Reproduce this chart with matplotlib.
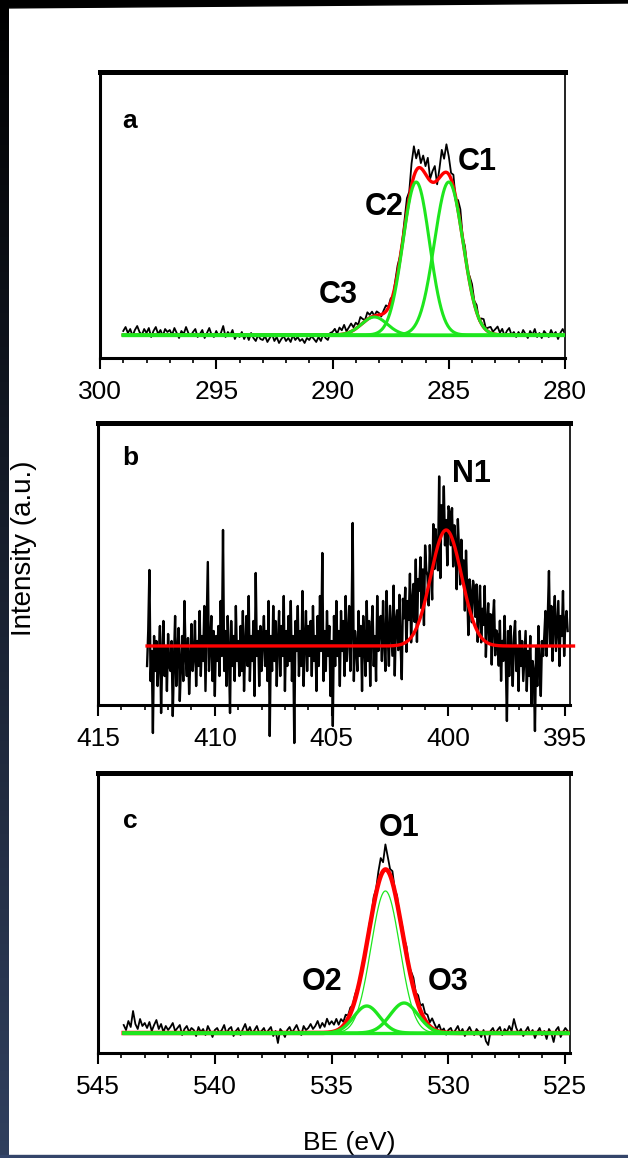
import numpy as np
import matplotlib.pyplot as plt
from matplotlib.patches import Polygon, Rectangle

W, H = 628, 1158
GREEN = '#1ee61e'
RED = '#ff0000'
plt.rcParams['font.family'] = ['Liberation Sans', 'DejaVu Sans']

# ---- panel a : C 1s  (raw = fit + residual, y in arbitrary units above baseline)
a_start, a_step = 299.0, 0.1
a_resid = [4, 8, 2, 6, -1, 5, 9, 3, 0, 6,
           2, 7, -2, 4, 8, 1, 5, -1, 6, 3,
           5, 0, 7, 2, -3, 4, 1, 8, 2, -1,
           3, 6, -2, 1, 5, -3, 2, 7, 0, -2,
           4, -1, 2, 9, -2, 3, 0, 5, -4, 1,
           -2, 3, -4, 1, -5, 2, -3, -6, 0, -4,
           -5, -1, -7, -3, 1, -6, -2, -8, -4, -1,
           -6, -3, -7, 0, -5, -2, -6, -4, -8, -3,
           -5, -1, -4, -7, -2, -6, 1, -3, -5, 2,
           3, 6, 1, 7, 4, 9, 2, 5, 8, 3,
           6, 2, 8, 4, 1, 7, 3, 5, 0, 4,
           2, -2, 3, 6, 1, 4, -1, 5, 8, 3,
           3, 8, 14, 6, 22, 30, 12, 18, 5, 15,
           8, 20, 2, 11, 16, -4, 9, 25, 14, 28,
           18, 6, 12, -3, 10, 15, 2, 8, -2, 6,
           10, 3, 7, -2, 5, 8, 1, 4, 6, 2,
           5, 8, 2, 6, -1, 4, 7, 0, 3, -2,
           3, -1, 5, 1, -3, 4, 0, 6, -2, 2,
           -3, 4, 1, -2, 5, 0, 3, -4, 2, 6, 1]
a_names = ['C1', 'C2', 'C3']
a_centers = [285.0, 286.4, 288.2]
a_heights = [153, 153, 18]
a_fwhm = [1.45, 1.35, 1.3]

# ---- panel b : N 1s
b_start, b_step = 412.9, 0.05
b_resid = [-20, 15, 76, -35, -5, -87, 10, -25, 5, -40, -15, 20, -67, -10, 25, -30, 0, -45, 12, -20,
           -25, 5, -70, -15, 30, -40, -5, 18, -55, -20, 10, -35, 45, -10, -30, 8, -48, -15, 22, -25,
           -10, 25, -40, 5, -20, 35, -30, 10, -15, 40, -45, 20, 84, -25, 0, 30, -35, 15, -50, 10,
           -15, 20, -30, 45, -10, 116, -25, 15, -40, 30, -5, -67, 25, -20, 10, -35, 40, -15, 5, -30,
           20, -25, 35, -45, 0, 30, -20, 50, -35, 10, -15, 25, -50, 73, -10, 15, -40, 20, -25, 5,
           30, -20, 15, -35, 45, -90, 10, -25, 40, -15, 25, -40, 5, 35, -30, 20, -10, 50, -45, 15,
           -20, 30, -15, 45, -35, 10, -97, 25, -5, 40, -30, 15, -20, 55, -40, 5, 35, -25, 20, -10,
           25, -30, 40, -15, 10, -45, 30, -20, 50, -5, 93, -35, 15, -25, 35, -10, 20, -50, 5, -80,
           30, -20, 45, -10, 15, -40, 35, -5, 25, -30, 50, -15, 10, 40, -25, 20, 123, -35, 15, 0,
           -25, 35, -10, 20, -45, 30, 5, -30, 45, -15, 25, -40, 15, 40, -20, 10, -35, 50, -5, 20,
           30, -15, 45, 5, -25, 55, 10, -20, 40, 15, -10, 60, -30, 25, 35, -5, 50, 0, -35, 45,
           25, 55, -10, 40, 20, 65, -5, 35, 50, 10, 70, -15, 45, 30, 60, 5, 40, -20, 55, 25,
           15, -20, 35, 5, -30, 40, -10, 25, -5, -25, 65, -40, 30, 0, 45, -15, 10, -35, 25, 20,
           -10, 30, -25, 20, 5, -35, 40, 15, -15, 35, 0, 25, -20, 45, 10, -30, 30, 20, -5, 40,
           35, 10, 45, -10, 25, 50, -5, 30, 15, 55, -15, 20, 40, 0, 30, -20, 25, 45, -10, 15,
           10, -20, 25, -35, 5, -15, 30, -10, -75, 15, -30, 20, -5, -40, 10, 25, -25, 0, -45, 15,
           -20, 5, -35, -10, 15, -45, -5, -30, 10, -60, -15, -25, -85, 0, -40, 20, -20, -50, 5, -10,
           10, 35, -10, 30, 75, 0, 40, -15, 25, 50, -5, 20, 45, -20, 30, 10, 55, -10, 25, 35,
           15]
b_names = ['N1']
b_centers = [400.1]
b_heights = [116]
b_fwhm = [1.55]

# ---- panel c : O 1s
c_start, c_step = 543.9, 0.1
c_resid = [8, 3, 12, 6, 22, 9, 4, 14, 7, 10,
           5, 11, 2, 8, 13, 4, 9, 1, 7, 3,
           6, 10, 2, 5, 8, -2, 4, 7, 1, 5,
           3, -3, 6, 1, 4, -2, 7, 2, -4, 3,
           5, 0, 3, 8, -1, 4, 6, -3, 2, 5,
           -2, 4, 9, 1, 6, -1, 3, 7, 0, 2,
           5, -1, 3, 6, -3, 2, -10, 4, 1, -4,
           3, 6, 0, 4, 8, 2, -2, 7, 3, 5,
           9, 4, 7, 12, 5, 10, 6, 14, 8, 11,
           7, 12, 5, 9, 4, 8, 3, 6, 2, 5,
           3, -2, 4, 1, -3, 5, 2, 8, 4, 12,
           18, 9, 25, 14, 6, 11, 2, 7, -1, 5,
           3, 8, 1, 6, 10, 4, 9, 5, 12, 7,
           9, 4, 10, 6, 2, 7, 1, 4, -2, 3,
           5, -1, 3, 7, 0, 4, -3, 2, 6, 1,
           -2, 4, 1, -4, 3, -8, -12, 2, 5, -1,
           3, 6, -2, 4, 1, 7, 2, 14, 5, 0,
           4, -3, 2, 6, -1, 3, -5, 1, 5, -2,
           2, -6, 4, 0, -9, 3, 6, -4, 1, 5,
           2]
c_names = ['O1', 'O2', 'O3']
c_centers = [532.7, 533.5, 531.9]
c_heights = [142, 27, 30]
c_fwhm = [1.45, 1.3, 1.4]


def gauss(x, c, h, w):
    return h * np.exp(-4 * np.log(2) * (x - c) ** 2 / w ** 2)


def fit_sum(x, centers, heights, fwhm):
    return sum(gauss(x, c, h, w) for c, h, w in zip(centers, heights, fwhm))


def px_axes(left, top, right, bottom):
    return [left / W, 1 - bottom / H, (right - left) / W, (bottom - top) / H]


def style(ax, xlim, ylim, majors):
    ax.set_xlim(*xlim)
    ax.set_ylim(*ylim)
    ax.set_yticks([])
    ax.set_xticks(majors)
    ax.set_xticks(np.arange(min(majors), max(majors) + 1, 1.0), minor=True)
    ax.tick_params(axis='x', which='major', direction='out', length=8, width=1.5,
                   labelsize=19, pad=8)
    ax.tick_params(axis='x', which='minor', direction='out', length=3.5, width=1.2)
    ax.spines['top'].set_linewidth(3.6)
    ax.spines['left'].set_linewidth(2.2)
    ax.spines['bottom'].set_linewidth(2.2)
    ax.spines['right'].set_linewidth(1.4)
    ax.spines['right'].set_color('#222222')


LAB = dict(fontsize=22, fontweight='bold')
LET = dict(fontsize=19, fontweight='bold')

fig = plt.figure(figsize=(W / 100, H / 100), dpi=100)
fig.patch.set_facecolor('white')

# ---------------- a
ax = fig.add_axes(px_axes(100, 72, 565, 358))
e = a_start - a_step * np.arange(len(a_resid))
xf = np.linspace(299.0, 280.0, 800)
ax.plot(e, fit_sum(e, a_centers, a_heights, a_fwhm) + np.array(a_resid),
        color='black', lw=1.3, zorder=2)
ax.plot(xf, fit_sum(xf, a_centers, a_heights, a_fwhm), color=RED, lw=2.4, zorder=3)
for c, h, w in zip(a_centers, a_heights, a_fwhm):
    ax.plot(xf, gauss(xf, c, h, w), color=GREEN, lw=2.2, zorder=4)
ax.plot([299.0, 280.0], [0, 0], color=GREEN, lw=2.4, zorder=4)
style(ax, (300, 280), (-23, 263), [300, 295, 290, 285, 280])
ax.text(299.05, 207, 'a', **LET)
ax.text(284.6, 165, 'C1', **LAB)
ax.text(288.6, 120, 'C2', **LAB)
ax.text(290.6, 32, 'C3', **LAB)

# ---------------- b
ax = fig.add_axes(px_axes(98, 423, 570, 705))
e = b_start - b_step * np.arange(len(b_resid))
xf = np.linspace(412.9, 394.65, 800)
ax.plot(e, fit_sum(e, b_centers, b_heights, b_fwhm) + np.array(b_resid),
        color='black', lw=1.7, zorder=2, clip_on=False)
ax.plot(xf, fit_sum(xf, b_centers, b_heights, b_fwhm), color=RED, lw=2.4, zorder=3,
        clip_on=False)
style(ax, (415, 394.8), (-59, 223), [415, 410, 405, 400, 395])
ax.text(413.95, 181, 'b', **LET)
ax.text(399.85, 164, 'N1', **LAB)

# ---------------- c
ax = fig.add_axes(px_axes(98, 773, 570, 1053))
e = c_start - c_step * np.arange(len(c_resid))
xf = np.linspace(543.9, 524.9, 800)
ax.plot(e, fit_sum(e, c_centers, c_heights, c_fwhm) + np.array(c_resid),
        color='black', lw=1.3, zorder=2)
ax.plot(xf, fit_sum(xf, c_centers, c_heights, c_fwhm), color=RED, lw=3.2, zorder=3)
for i, (c, h, w) in enumerate(zip(c_centers, c_heights, c_fwhm)):
    ax.plot(xf, gauss(xf, c, h, w), color=GREEN, lw=0.9 if i == 0 else 2.4, zorder=4)
ax.plot([543.9, 524.9], [0, 0], color=GREEN, lw=2.4, zorder=4)
style(ax, (545, 524.8), (-20, 260), [545, 540, 535, 530, 525])
ax.text(543.95, 205, 'c', **LET)
ax.text(533.0, 197, 'O1', **LAB)
ax.text(536.3, 43, 'O2', **LAB)
ax.text(530.9, 43, 'O3', **LAB)

# shared axis titles
fig.text(24 / W, 1 - 548 / H, 'Intensity (a.u.)', rotation=90, ha='center', va='center',
         fontsize=20)
fig.text(349 / W, 1 - 1150 / H, 'BE (eV)', ha='center', va='baseline', fontsize=19)

# screenshot frame: dark strip on the left, thin bands top and bottom
strip = fig.add_axes([0, 0, 9 / W, 1])
grad = np.linspace(0, 1, 200)[:, None, None] * np.array([0.19, 0.25, 0.37])[None, None, :]
strip.imshow(grad, aspect='auto', extent=[0, 1, 0, 1], origin='upper')
strip.set_axis_off()
fig.patches.append(Polygon([[0, 1], [1, 1], [1, 1 - 3 / H], [0, 1 - 8 / H]], closed=True,
                           transform=fig.transFigure, color='black', zorder=10))
fig.patches.append(Rectangle((0, 0), 1, 3 / H, transform=fig.transFigure,
                             color='#34456a', zorder=10))

fig.savefig('out.png', dpi=100)
